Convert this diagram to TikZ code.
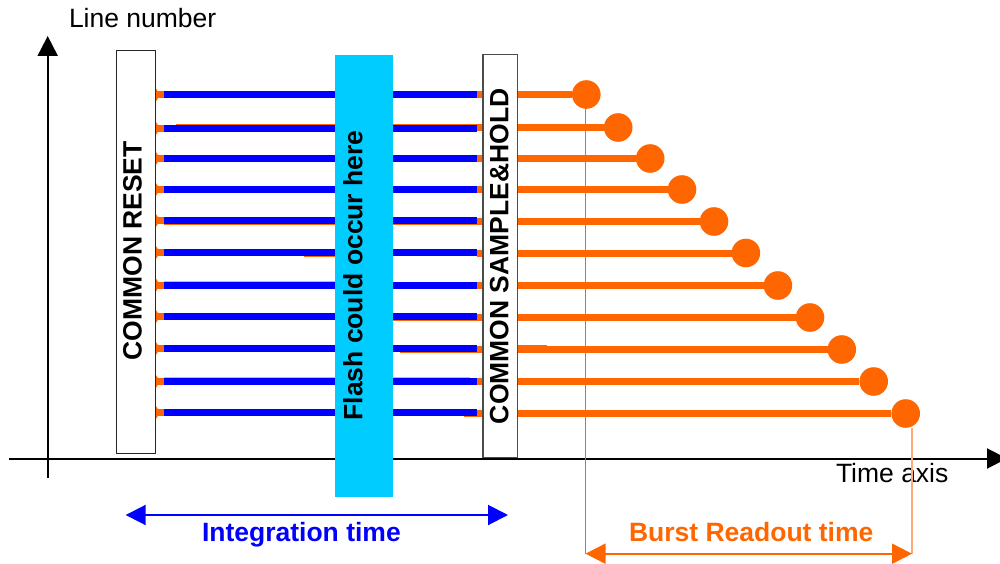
\documentclass[tikz,border=0pt]{standalone}
\usepackage{fontspec}
\setmainfont{Liberation Sans}
\usetikzlibrary{arrows.meta,calc}
\definecolor{burst}{HTML}{FF6600}
\definecolor{pure}{HTML}{0000FF}
\definecolor{flash}{HTML}{00CCFF}
\definecolor{fadeorange}{HTML}{FFA878}
\tikzset{
  lbl/.style={inner sep=0pt,outer sep=0pt,anchor=base west,font=\fontsize{26.5}{30}\selectfont},
  lblb/.style={lbl,font=\fontsize{26.5}{30}\selectfont\bfseries},
  panel/.style={draw=black,line width=0.9pt,fill=white,inner sep=0pt,outer sep=0pt,anchor=north west},
  dot/.style={circle,fill=burst,inner sep=0pt,outer sep=0pt,minimum size=28.6pt},
  bar/.style={line width=7pt},
  sliver/.style={line width=1pt,burst},
  faint/.style={line width=1pt,fadeorange},
  axis/.style={line width=2pt,black,-{Triangle[length=20pt,width=20pt]}},
  span/.style={line width=2pt,{Triangle[length=20pt,width=20pt]}-{Triangle[length=20pt,width=20pt]}},
}
\begin{document}
\begin{tikzpicture}[x=1pt,y=-1pt]
\path[use as bounding box,clip] (0,0) rectangle (1000,564);
% anchors
\coordinate (ytop) at (47.7,36);
\coordinate (ybot) at (47.7,478);
\coordinate (xl) at (9,458.5);
\coordinate (xr) at (1007,458.5);
% axes
\draw[axis] (ybot) -- (ytop);
\draw[axis] (xl) -- (xr);
% box geometry, needed by the connectors
\node[panel,draw=none,fill=none,minimum width=39.7pt,minimum height=403.2pt] (reset) at (116.2,50.5) {};
\node[panel,draw=none,fill=none,minimum width=34.7pt,minimum height=403pt] (sh) at (483,54.3) {};
\node[anchor=north west,inner sep=0pt,outer sep=0pt,minimum width=58pt,minimum height=442pt,draw=none] (fl) at (335,55) {};
% readout dots and orange lines
\foreach \i/\x/\yo/\yb in {1/586.3/94.5/95,2/618.2/127.5/128.5,3/650.2/158.5/158.5,4/682/189.5/189.5,5/714/221.5/220.5,6/745.9/253/252.5,7/777.9/285.5/285,8/810/317.5/316.5,9/841.8/349.5/348.5,10/873.7/381.5/381.5,11/905.7/413.5/412.5}{
  \node[dot] (d\i) at (\x,\yo) {};
  \coordinate (lb\i) at (164,\yb);
  \coordinate (rb\i) at (477,\yb);
  \coordinate (ro\i) at (477,\yo);
  \draw[burst,bar] (sh.east |- d\i) -- (d\i);
  \draw[burst,bar] (ro\i) -- (sh.west |- ro\i);
  \draw[burst,bar] (reset.east |- lb\i) -- (lb\i);
  \fill[burst] ($(reset.east |- lb\i)+(0,-6.5)$) -- ($(reset.east |- lb\i)+(2,-3.5)$) -- ($(reset.east |- lb\i)+(2,3.5)$) -- ($(reset.east |- lb\i)+(0,6.5)$) -- cycle;
}
% orange slivers showing past the blue bars
\draw[sliver] (164,91.3) -- (fl.west |- 0,91.3);
\draw[sliver] (176,124.6) -- (fl.west |- 0,124.6);
\draw[sliver] (164,224.4) -- (fl.west |- 0,224.4);
\draw[sliver] (304,256.4) -- (fl.west |- 0,256.4);
\draw[faint] (164,281.3) -- (fl.west |- 0,281.3);
\draw[faint] (164,377.8) -- (fl.west |- 0,377.8);
\draw[sliver] (fl.east |- 0,91.3) -- (477,91.3);
\draw[sliver] (fl.east |- 0,124.6) -- (477,124.6);
\draw[sliver] (fl.east |- 0,224.4) -- (477,224.4);
\draw[sliver] (fl.east |- 0,320.5) -- (477,320.5);
\draw[sliver] (400,352.5) -- (477,352.5);
\draw[faint] (fl.east |- 0,377.8) -- (470,377.8);
\draw[burst,bar] (464,413.5) -- (477,413.5);
\draw[sliver] (sh.east |- 0,345.5) -- (547,345.5);
% blue bars
\foreach \i in {1,...,11}{
  \draw[pure,bar] (lb\i) -- (rb\i);
}
% flash band
\fill[flash] (fl.north west) rectangle (fl.south east);
% boxes
\draw[black!85,line width=1pt,fill=white] (reset.north west) rectangle (reset.south east);
\draw[black!70,line width=1.2pt,fill=white] (sh.north west) rectangle (sh.south east);
% readout window
\coordinate (bl) at (585.5,553.7);
\coordinate (br) at (912,553.7);
\coordinate (bltop) at (585.5,108);
\coordinate (brtop) at (912,428);
\draw[burst,line width=1pt] (bltop) -- (bl);
% texts
\node[lbl] (ln) at (69,27.5) {Line number};
\node[lbl] (ta) at (836,482.3) {Time axis};
\draw[fadeorange,line width=2pt] (brtop) -- (br);
\node[lblb,rotate=90] (rt) at (141.5,360.5) {COMMON RESET};
\node[lblb,rotate=90] (ft) at (362.3,420.5) {Flash could occur here};
\node[lblb,rotate=90] (st) at (508.3,424) {COMMON SAMPLE\&HOLD};
\node[lblb,text=pure] (it) at (202,541.3) {Integration time};
\node[lblb,text=burst] (bt) at (629,541.3) {Burst Readout time};
% spans
\coordinate (il) at (125.7,515);
\coordinate (ir) at (508,515);
\draw[span,pure] (il) -- (ir);
\draw[span,burst] (bl) -- (br);
\end{tikzpicture}
\end{document}
